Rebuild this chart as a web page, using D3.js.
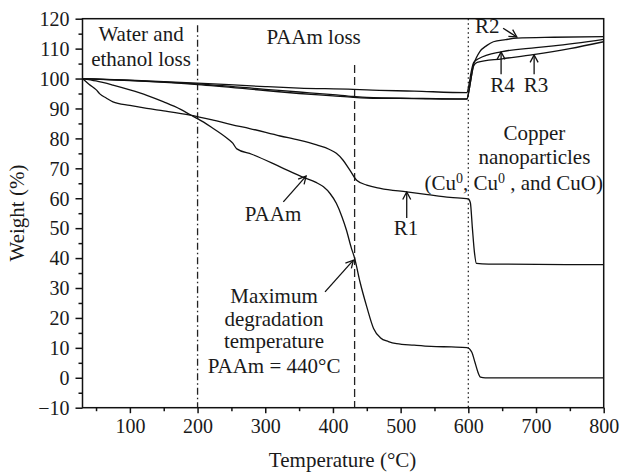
<!DOCTYPE html>
<html>
<head>
<meta charset="utf-8">
<script src="https://cdn.jsdelivr.net/npm/d3@7"></script>
<style>
  html, body { margin: 0; padding: 0; background: #fff; }
  svg text { font-family: "Liberation Serif", "DejaVu Serif", serif; fill: #1a1a1a; }
</style>
</head>
<body>
<svg id="chart" width="620" height="475"></svg>
<script>
// ---------------- data (temperature °C, weight %) ----------------
const paam = [[30,100],[50,99.2],[75,97.8],[100,96.2],[125,94.4],[150,92.2],[175,89.7],[190,87.8],[200,86.6],[220,83.8],[245,79.8],[252,78.4],[258,76.5],[280,74.7],[322,70.5],[356,67],[375,65.3],[386,63.8],[396,61.5],[405,58.3],[413,54],[420,49.3],[427,43.5],[432,40],[440,32],[450,23.7],[460,16.5],[470,13.4],[482,12.1],[494,11.4],[520,10.9],[545,10.5],[575,10.3],[598,10.1],[605,8.6],[610,5],[614,2],[618,0.2],[625,0],[700,0],[800,0]];
const r1 = [[30,100],[40,98],[50,96.3],[56,94.8],[65,93.5],[75,92.2],[100,91],[125,90],[150,89.2],[189,87.8],[223,86.1],[250,84.6],[277,83.3],[322,80.8],[350,79.4],[376,77.8],[395,76.3],[405,75],[415,72.7],[425,69.4],[435,66],[450,64.4],[470,63.3],[509,62.1],[540,61.2],[573,60.3],[600,59.8],[603,58.5],[606,50],[609,42],[612,38.2],[630,38],[800,37.8]];
const r2 = [[30,100],[100,99.3],[200,98],[300,96],[350,95],[400,94.2],[430,93.7],[450,93.5],[520,93.3],[598,93.1],[601,96],[604,100],[607,104],[612,107],[617,109],[627,111],[637,112.3],[655,113],[672,113.5],[726,113.8],[800,114]];
const r3 = [[30,100],[100,99.4],[200,98.2],[300,96.4],[350,95.5],[400,94.6],[430,94],[450,93.7],[520,93.4],[598,93.2],[601,96],[604,100],[608,104.3],[613,105.4],[650,106.6],[696,108],[750,110],[800,112.3]];
const r4 = [[30,100],[100,99.5],[200,98.5],[300,97.3],[350,96.8],[430,96.4],[450,96.2],[520,95.8],[598,95.3],[601,98],[604,102],[608,105.4],[615,106.6],[650,109],[700,110.3],[726,110.9],[800,113.1]];

const xMajor = [100,200,300,400,500,600,700,800];
const xMinor = [50,150,250,350,450,550,650,750];
const yMajor = [-10,0,10,20,30,40,50,60,70,80,90,100,110,120];
const yMinor = [-5,5,15,25,35,45,55,65,75,85,95,105,115];

// ---------------- scales ----------------
const svg = d3.select("#chart");
const x = d3.scaleLinear().domain([30, 800]).range([82.5, 603.7]);
const y = d3.scaleLinear().domain([-10, 120]).range([407.7, 18.7]);
const FS = 20;      // tick labels / titles
const FA = 21;      // annotations

// vertical reference lines
const vlines = [
  {t: 200, top: 117.8, dash: "7,3,1.5,3"},
  {t: 432, top: 104.5, dash: "8,4"},
  {t: 600, top: 120, dash: "1.5,3"}
];
svg.selectAll("line.vref").data(vlines).enter().append("line")
  .attr("x1", d => x(d.t)).attr("x2", d => x(d.t))
  .attr("y1", d => y(d.top)).attr("y2", y(-10))
  .attr("stroke", "#222").attr("stroke-width", 1.3)
  .attr("stroke-dasharray", d => d.dash);

// curves
const line = d3.line().x(d => x(d[0])).y(d => y(d[1])).curve(d3.curveMonotoneX);
[paam, r1, r2, r3, r4].forEach(s => {
  svg.append("path").datum(s).attr("d", line)
    .attr("fill", "none").attr("stroke", "#111").attr("stroke-width", 1.3);
});

// frame
svg.append("rect").attr("x", x(30)).attr("y", y(120))
  .attr("width", x(800) - x(30)).attr("height", y(-10) - y(120))
  .attr("fill", "none").attr("stroke", "#111").attr("stroke-width", 1.5);

// axes
const gx = svg.append("g").attr("transform", `translate(0,${y(-10)})`)
  .call(d3.axisBottom(x).tickValues(xMajor).tickSize(5.5).tickPadding(6));
const gxm = svg.append("g").attr("transform", `translate(0,${y(-10)})`)
  .call(d3.axisBottom(x).tickValues(xMinor).tickSize(3.5).tickFormat(""));
const gy = svg.append("g").attr("transform", `translate(${x(30)},0)`)
  .call(d3.axisLeft(y).tickValues(yMajor).tickSize(7).tickPadding(6));
const gym = svg.append("g").attr("transform", `translate(${x(30)},0)`)
  .call(d3.axisLeft(y).tickValues(yMinor).tickSize(4).tickFormat(""));
[gx, gxm, gy, gym].forEach(g => {
  g.select(".domain").remove();
  g.selectAll(".tick line").attr("stroke", "#111").attr("stroke-width", 1.5);
  g.selectAll("text").attr("font-family", "Liberation Serif").attr("font-size", FS).attr("fill", "#1a1a1a");
});
gy.selectAll(".tick text").attr("dy", "0.34em");

// axis titles
svg.append("text").attr("x", 342.6).attr("y", 467).attr("text-anchor", "middle")
  .attr("font-size", FA).text("Temperature (°C)");
svg.append("text").attr("transform", "translate(24,213) rotate(-90)").attr("text-anchor", "middle")
  .attr("font-size", FA).text("Weight (%)");

// annotations (data coordinates)
const labels = [
  {t: 116.5, w: 112.6, s: "Water and", a: "middle"},
  {t: 116.5, w: 104.1, s: "ethanol loss", a: "middle"},
  {t: 371.4, w: 111.4, s: "PAAm loss", a: "middle"},
  {t: 610, w: 115.2, s: "R2", a: "start"},
  {t: 650.6, w: 95.4, s: "R4", a: "middle"},
  {t: 700, w: 95.4, s: "R3", a: "middle"},
  {t: 697.6, w: 79.4, s: "Copper", a: "middle"},
  {t: 697.6, w: 71.6, s: "nanoparticles", a: "middle"},
  {t: 508, w: 47.7, s: "R1", a: "middle"},
  {t: 311.5, w: 52.3, s: "PAAm", a: "middle"},
  {t: 313, w: 25, s: "Maximum", a: "middle"},
  {t: 313, w: 17.2, s: "degradation", a: "middle"},
  {t: 313, w: 9.8, s: "temperature", a: "middle"},
  {t: 313, w: 1.5, s: "PAAm = 440°C", a: "middle"}
];
svg.selectAll("text.lab").data(labels).enter().append("text")
  .attr("x", d => x(d.t)).attr("y", d => y(d.w))
  .attr("text-anchor", d => d.a).attr("font-size", FA).text(d => d.s);

// Cu line with superscripts
const cu = svg.append("text").attr("x", x(667)).attr("y", y(62.6))
  .attr("text-anchor", "middle").attr("font-size", FA);
cu.append("tspan").text("(Cu");
cu.append("tspan").attr("dy", -7).attr("font-size", 14).text("0");
cu.append("tspan").attr("dy", 7).text(", Cu");
cu.append("tspan").attr("dy", -7).attr("font-size", 14).text("0");
cu.append("tspan").attr("dy", 7).text(" , and CuO)");

// arrows
svg.append("defs").append("marker").attr("id", "arr")
  .attr("viewBox", "-9 -5 10 10").attr("refX", 0).attr("refY", 0)
  .attr("markerWidth", 10).attr("markerHeight", 10).attr("markerUnits", "userSpaceOnUse")
  .attr("orient", "auto")
  .append("path").attr("d", "M-7.5,-4 L0,0 L-7.5,4").attr("fill", "none")
  .attr("stroke", "#111").attr("stroke-width", 1.3);
const arrows = [
  {t1: 651.4, w1: 116.8, t2: 671.7, w2: 113.9},
  {t1: 648.4, w1: 101.4, t2: 648.4, w2: 108.9},
  {t1: 697.2, w1: 101.4, t2: 697.2, w2: 107.9},
  {t1: 509, w1: 53.4, t2: 509, w2: 62.1},
  {t1: 326.7, w1: 58.8, t2: 360.3, w2: 67.4},
  {t1: 388.3, w1: 28.7, t2: 430.2, w2: 39.3}
];
svg.selectAll("line.arrow").data(arrows).enter().append("line")
  .attr("x1", d => x(d.t1)).attr("y1", d => y(d.w1))
  .attr("x2", d => x(d.t2)).attr("y2", d => y(d.w2))
  .attr("stroke", "#111").attr("stroke-width", 1.3)
  .attr("marker-end", "url(#arr)");
</script>
</body>
</html>
